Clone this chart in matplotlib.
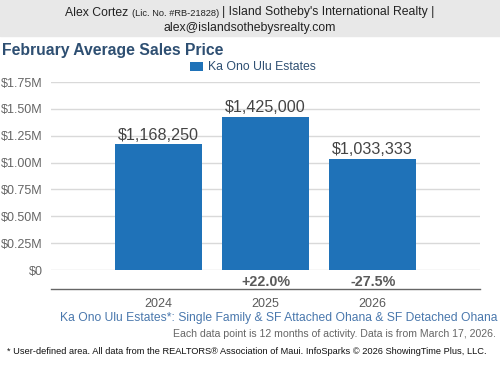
import matplotlib.pyplot as plt
from matplotlib.ticker import FuncFormatter

plt.rcParams['font.family'] = ['Liberation Sans', 'DejaVu Sans']

# ======================
# Data
# ======================
years = ["2024", "2025", "2026"]
avg_price = [1168250, 1425000, 1033333]
pct_change = ["", "+22.0%", "-27.5%"]
price_labels = ["$1,168,250", "$1,425,000", "$1,033,333"]

bar_color = "#1f72b8"
title_color = "#2e4f72"
grey = "#5a5a5a"

fig = plt.figure(figsize=(5, 3.75), dpi=100)

# header band
fig.patches.append(plt.Rectangle((0, 1 - 36 / 375), 1, 36 / 375,
                                 transform=fig.transFigure, color="#e8e8e8", zorder=0))
hdr_y = 1 - 12.5 / 375
fig.text(65 / 500, hdr_y, "Alex Cortez", ha="left", va="center", fontsize=8.8, color="#222222")
fig.text(132 / 500, hdr_y - 0.002, "(Lic. No. #RB-21828)", ha="left", va="center", fontsize=6.7,
         color="#222222")
fig.text(222 / 500, hdr_y, "| Island Sotheby's International Realty |", ha="left", va="center",
         fontsize=8.8, color="#222222")
fig.text(0.5, 1 - 27.5 / 375, "alex@islandsothebysrealty.com", ha="center", va="center",
         fontsize=8.8, color="#222222")

fig.text(0.004, 1 - 50 / 375, "February Average Sales Price", ha="left", va="center",
         fontsize=11.3, fontweight="bold", color=title_color)

# ======================
# Plot
# ======================
ax = fig.add_axes([51 / 500, 1 - 270 / 375, 429 / 500, 188 / 375])
x = range(len(years))
ax.bar(x, avg_price, width=0.81, color=bar_color, zorder=3, label="Ka Ono Ulu Estates")

for i, v in enumerate(avg_price):
    ax.text(i, v + 15000, price_labels[i], ha="center", va="bottom", fontsize=11.6, color="#444444")

ax.set_xlim(-1, 3)
ax.set_ylim(0, 1750000)
ax.set_yticks([i * 250000 for i in range(8)])
ax.yaxis.set_major_formatter(FuncFormatter(lambda v, p: "$0" if v == 0 else f"${v / 1e6:.2f}M"))
ax.grid(axis="y", color="#d9d9d9", linewidth=1, zorder=0)
for s in ax.spines.values():
    s.set_visible(False)
ax.tick_params(axis="y", length=0, pad=6, labelsize=9, labelcolor="#666666")
ax.set_xticks(list(x))
ax.set_xticklabels(years)
ax.tick_params(axis="x", length=0, pad=20, labelsize=9, labelcolor=grey)

tr = ax.get_xaxis_transform()
for i, p in enumerate(pct_change):
    ax.text(i, -0.064, p, transform=tr, ha="center", va="center", fontsize=10.3,
            fontweight="bold", color=grey)
ax.plot([-1, 3], [-0.101, -0.101], transform=tr, color="#666666", linewidth=1, clip_on=False)

ax.legend(loc="lower center", bbox_to_anchor=(0.47, 1.0), frameon=False, fontsize=8.8,
          handlelength=1.1, handleheight=0.8, borderpad=0.2, handletextpad=0.4,
          labelcolor=title_color)

fig.text(0.996, 1 - 318 / 375, "Ka Ono Ulu Estates*: Single Family & SF Attached Ohana & SF Detached Ohana",
         ha="right", va="center", fontsize=8.75, color="#4a78ad")
fig.text(0.992, 1 - 334 / 375, "Each data point is 12 months of activity. Data is from March 17, 2026.",
         ha="right", va="center", fontsize=7.6, color="#666666")
fig.text(0.014, 1 - 352 / 375,
         "* User-defined area. All data from the REALTORS\u00ae Association of Maui. InfoSparks \u00a9 2026 ShowingTime Plus, LLC.",
         ha="left", va="center", fontsize=6.7, color="#111111")

fig.savefig("out.png", dpi=100)
